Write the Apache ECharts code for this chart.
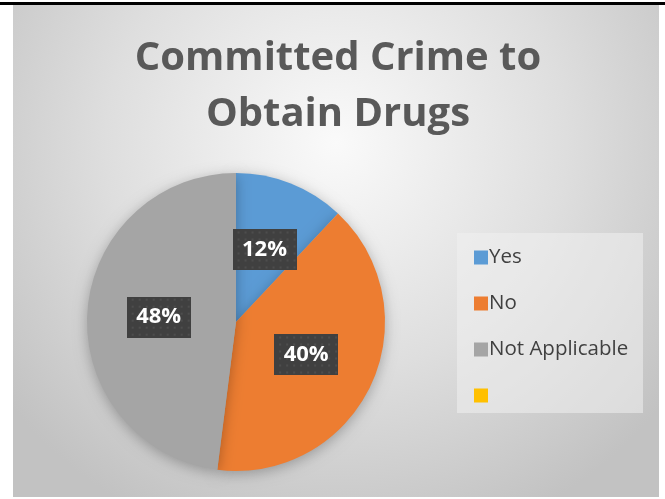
<!DOCTYPE html>
<html>
<head>
<meta charset="utf-8">
<script src="https://cdn.jsdelivr.net/npm/echarts@6/dist/echarts.min.js"></script>
<style>
  html, body { margin: 0; padding: 0; background: #ffffff; }
  #chart { width: 665px; height: 499px; }
</style>
</head>
<body>
<div id="chart"></div>
<script>
// Survey answers: share of respondents (percent)
const categories = ['Yes', 'No', 'Not Applicable', ' '];
const shares = [12, 40, 48, 0];
const sliceColors = ['#5B9BD5', '#ED7D31', '#A5A5A5', '#FFC000'];
const titleLines = ['Committed Crime to', 'Obtain Drugs'];

const FONT = '"Open Sans", "Noto Sans", sans-serif';

// dark tile with a faint dot grid for the value labels
function labelTile(w, h) {
  const c = document.createElement('canvas');
  c.width = w; c.height = h;
  const g = c.getContext('2d');
  g.fillStyle = '#404040';
  g.fillRect(0, 0, w, h);
  g.fillStyle = 'rgba(255,255,255,0.07)';
  for (let y = 3; y < h; y += 7) {
    for (let x = 3 + ((y / 7) % 2 ? 3 : 0); x < w; x += 7) {
      g.beginPath();
      g.arc(x, y, 1.3, 0, Math.PI * 2);
      g.fill();
    }
  }
  return c;
}

const pieData = categories.map((name, i) => {
  const item = { name: name, value: shares[i], itemStyle: { color: sliceColors[i] } };
  if (shares[i] === 0) {
    item.label = { show: false };
    item.labelLine = { show: false };
  }
  return item;
});

const chart = echarts.init(document.getElementById('chart'), null, { renderer: 'canvas' });

chart.setOption({
  animation: false,
  graphic: [
    // chart area with soft radial shading
    {
      type: 'rect', z: -10, silent: true,
      shape: { x: 13, y: 5, width: 646, height: 492 },
      style: {
        fill: new echarts.graphic.RadialGradient(0.5, 0.28, 0.85, [
          { offset: 0, color: '#fafafa' },
          { offset: 0.55, color: '#dedede' },
          { offset: 1, color: '#c2c2c2' }
        ])
      }
    },
    // top rule
    {
      type: 'rect', z: -5, silent: true,
      shape: { x: 0, y: 2, width: 665, height: 3 },
      style: { fill: '#000000' }
    },
    // legend panel
    {
      type: 'rect', z: -4, silent: true,
      shape: { x: 457, y: 233, width: 186, height: 180 },
      style: { fill: 'rgba(240,240,240,0.55)' }
    }
  ],
  title: {
    text: titleLines.join('\n'),
    left: 333,
    top: 26,
    textAlign: 'center',
    textStyle: {
      fontFamily: FONT,
      fontSize: 40,
      fontWeight: 'bold',
      lineHeight: 56,
      color: '#595959'
    }
  },
  legend: {
    orient: 'vertical',
    left: 469,
    top: 242,
    icon: 'rect',
    itemWidth: 14,
    itemHeight: 14,
    itemGap: 25,
    data: categories,
    textStyle: {
      fontFamily: FONT,
      fontSize: 20.5,
      lineHeight: 20,
      color: '#404040',
      padding: [0, 0, 0, -4]
    }
  },
  series: [{
    type: 'pie',
    center: [236, 322],
    radius: [0, 149],
    startAngle: 90,
    clockwise: true,
    avoidLabelOverlap: false,
    data: pieData,
    itemStyle: {
      shadowBlur: 14,
      shadowOffsetY: 3,
      shadowColor: 'rgba(0,0,0,0.28)'
    },
    label: {
      show: true,
      position: 'inside',
      formatter: '{c}%',
      fontFamily: FONT,
      fontSize: 22,
      fontWeight: 'bold',
      color: '#ffffff',
      backgroundColor: { image: labelTile(64, 41) },
      width: 64,
      height: 41,
      lineHeight: 41,
      align: 'center',
      padding: 0,
      shadowBlur: 6,
      shadowOffsetX: 3,
      shadowOffsetY: 3,
      shadowColor: 'rgba(0,0,0,0.45)'
    },
    labelLine: { show: false },
    emphasis: { disabled: true }
  }]
});
</script>
</body>
</html>
